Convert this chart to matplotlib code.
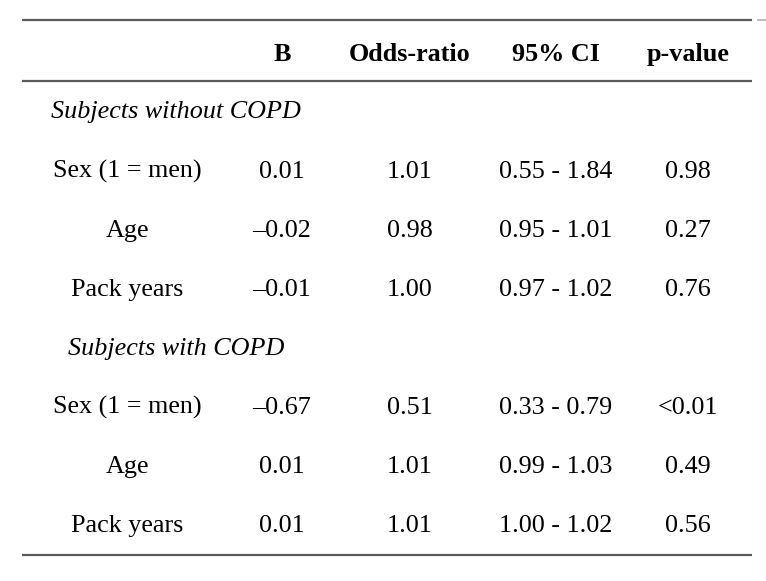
import matplotlib
matplotlib.use("Agg")
import matplotlib.pyplot as plt

# Table content
headers = ["B", "Odds-ratio", "95% CI", "p-value"]
sections = ["Subjects without COPD", "Subjects with COPD"]
variables = ["Sex (1 = men)", "Age", "Pack years"]

b_without = ["0.01", "\u20130.02", "\u20130.01"]
or_without = ["1.01", "0.98", "1.00"]
ci_without = ["0.55 - 1.84", "0.95 - 1.01", "0.97 - 1.02"]
p_without = ["0.98", "0.27", "0.76"]

b_with = ["\u20130.67", "0.01", "0.01"]
or_with = ["0.51", "1.01", "1.01"]
ci_with = ["0.33 - 0.79", "0.99 - 1.03", "1.00 - 1.02"]
p_with = ["<0.01", "0.49", "0.56"]

W, H = 766, 581
fig = plt.figure(figsize=(W / 100, H / 100), dpi=100)
ax = fig.add_axes([0, 0, 1, 1])
ax.set_xlim(0, W)
ax.set_ylim(H, 0)
ax.axis("off")

font = "Liberation Serif"
fs = 18.8
line_col = "#5a5a5a"

# layout (pixel positions, text baselines)
label_x = 127
section_x = 176
col_x = [282, 410, 556, 688]
header_y = 61
section_y = [118, 355]
row_y = [[178, 237, 296], [414, 473, 532]]

# rules
ax.plot([22, 752], [20, 20], color=line_col, lw=1.6, solid_capstyle="butt")
ax.plot([757, 766], [20, 20], color="#b0b0b0", lw=1.2, solid_capstyle="butt")
ax.plot([22, 752], [81, 81], color=line_col, lw=1.6, solid_capstyle="butt")
ax.plot([22, 752], [555, 555], color=line_col, lw=1.6, solid_capstyle="butt")

for x, h in zip(col_x, headers):
    ax.text(x, header_y, h, ha="center", va="baseline", family=font,
            fontsize=fs, fontweight="bold")

blocks = [(b_without, or_without, ci_without, p_without),
          (b_with, or_with, ci_with, p_with)]

for s, name in enumerate(sections):
    ax.text(section_x, section_y[s], name, ha="center", va="baseline",
            family=font, fontsize=fs, style="italic")
    for i, var in enumerate(variables):
        y = row_y[s][i]
        ax.text(label_x, y, var, ha="center", va="baseline", family=font, fontsize=fs)
        for x, col in zip(col_x, blocks[s]):
            ax.text(x, y, col[i], ha="center", va="baseline", family=font, fontsize=fs)

fig.savefig("out.png", dpi=100)
